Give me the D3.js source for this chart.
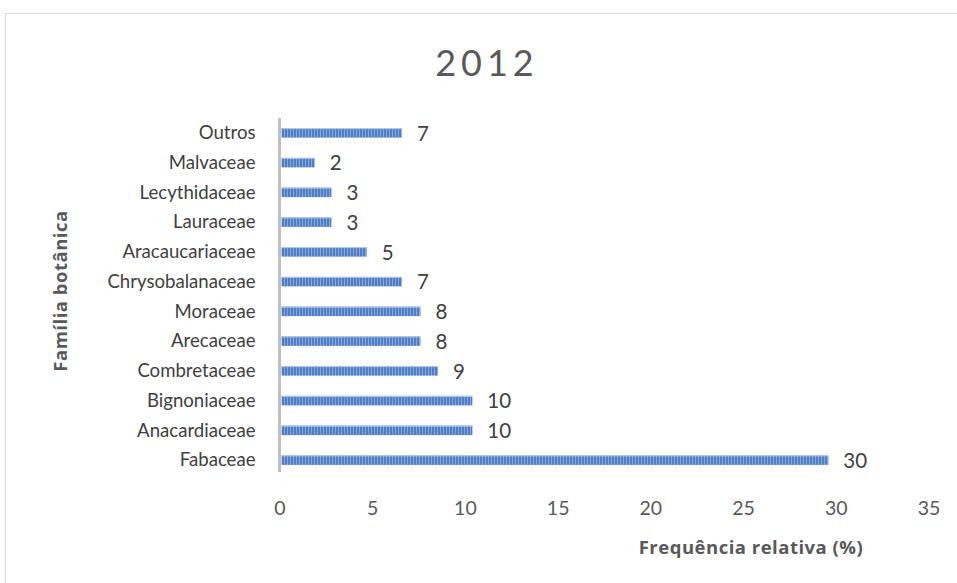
<!DOCTYPE html>
<html>
<head>
<meta charset="utf-8">
<script src="https://cdn.jsdelivr.net/npm/d3@7"></script>
<style>
  html, body { margin: 0; padding: 0; background: #fff; }
  svg { display: block; }
</style>
</head>
<body>
<svg id="chart" width="957" height="583"></svg>
<script>
// Botanical families (bottom to top as drawn: first entry sits at the bottom)
const families = ["Fabaceae", "Anacardiaceae", "Bignoniaceae", "Combretaceae", "Arecaceae",
  "Moraceae", "Chrysobalanaceae", "Aracaucariaceae", "Lauraceae", "Lecythidaceae",
  "Malvaceae", "Outros"];
// Relative frequency (%) per family
const frequencies = [29.6, 10.4, 10.4, 8.55, 7.6, 7.6, 6.6, 4.7, 2.8, 2.8, 1.9, 6.6];
// X axis ticks
const xTicks = [0, 5, 10, 15, 20, 25, 30, 35];

const chartTitle = "2012";
const xTitle = "Frequência relativa (%)";
const yTitle = "Família botânica";

const svg = d3.select("#chart");
const font = "Lato, 'Open Sans', sans-serif";
const boldFont = "'Open Sans', Lato, sans-serif";

// Chart area frame
svg.append("rect")
  .attr("x", 5.5).attr("y", 13.5)
  .attr("width", 960).attr("height", 600)
  .attr("fill", "#fff").attr("stroke", "#d9d9d9").attr("stroke-width", 1);

const plot = { left: 279.5, right: 928.5, top: 118, bottom: 475 };

const x = d3.scaleLinear().domain([0, 35]).range([plot.left, plot.right]);
const y = d3.scaleBand()
  .domain(families.slice().reverse())
  .range([plot.top, plot.bottom])
  .paddingInner(0.68).paddingOuter(0.34);

// Striped fill for the bars
const defs = svg.append("defs");
const pat = defs.append("pattern")
  .attr("id", "stripes")
  .attr("patternUnits", "userSpaceOnUse")
  .attr("width", 3).attr("height", 10);
pat.append("rect").attr("width", 3).attr("height", 10).attr("fill", "#86a8da");
pat.append("rect").attr("width", 2).attr("height", 10).attr("fill", "#4f7fc2");

const rows = d3.zip(families, frequencies).map(([name, value]) => ({ name, value }));

// Bars
svg.append("g").selectAll("rect")
  .data(rows)
  .join("rect")
  .attr("x", x(0) + 2)
  .attr("y", d => y(d.name))
  .attr("width", d => x(d.value) - x(0) - 2)
  .attr("height", y.bandwidth())
  .attr("fill", "url(#stripes)");

// Thin light edge on top of each bar
svg.append("g").selectAll("line")
  .data(rows)
  .join("line")
  .attr("x1", x(0) + 2)
  .attr("x2", d => x(d.value))
  .attr("y1", d => y(d.name) + 0.5)
  .attr("y2", d => y(d.name) + 0.5)
  .attr("stroke", "#b7cbe9").attr("stroke-width", 1);

// Value labels
const fmt = d3.format(".0f");
svg.append("g").selectAll("text")
  .data(rows)
  .join("text")
  .attr("x", d => x(d.value) + 15)
  .attr("y", d => y(d.name) + y.bandwidth() / 2)
  .attr("dy", "0.38em")
  .attr("font-family", font).attr("font-size", 20.5)
  .attr("fill", "#404040")
  .text(d => fmt(d.value));

// Y axis (category labels)
const yAxis = d3.axisLeft(y).tickSize(0).tickPadding(24);
const gy = svg.append("g").attr("transform", `translate(${plot.left},0)`).call(yAxis);
gy.select(".domain").remove();
gy.selectAll("text")
  .attr("dy", "0.34em")
  .attr("font-family", font).attr("font-size", 18.6)
  .attr("fill", "#404040");

// Vertical axis line
svg.append("line")
  .attr("x1", plot.left).attr("x2", plot.left)
  .attr("y1", plot.top).attr("y2", plot.bottom - 3)
  .attr("stroke", "#bfbfbf").attr("stroke-width", 3);

// X axis (tick labels only)
const xAxis = d3.axisBottom(x).tickValues(xTicks).tickSize(0).tickPadding(0);
const gx = svg.append("g").attr("transform", `translate(0,508)`).call(xAxis);
gx.select(".domain").remove();
gx.selectAll("text")
  .attr("dy", "0.36em")
  .attr("font-family", font).attr("font-size", 19.5)
  .attr("fill", "#595959");

// Title
svg.append("text")
  .attr("x", 487).attr("y", 76)
  .attr("text-anchor", "middle")
  .attr("font-family", font).attr("font-size", 36)
  .attr("letter-spacing", 5)
  .attr("fill", "#595959")
  .text(chartTitle);

// Axis titles
svg.append("text")
  .attr("x", 751).attr("y", 554)
  .attr("text-anchor", "middle")
  .attr("font-family", boldFont).attr("font-size", 18.5).attr("font-weight", "bold")
  .attr("letter-spacing", 0.5)
  .attr("fill", "#595959")
  .text(xTitle);

svg.append("text")
  .attr("transform", "translate(67,291) rotate(-90)")
  .attr("text-anchor", "middle")
  .attr("font-family", boldFont).attr("font-size", 18.5).attr("font-weight", "bold")
  .attr("letter-spacing", 0.5)
  .attr("fill", "#595959")
  .text(yTitle);
</script>
</body>
</html>
